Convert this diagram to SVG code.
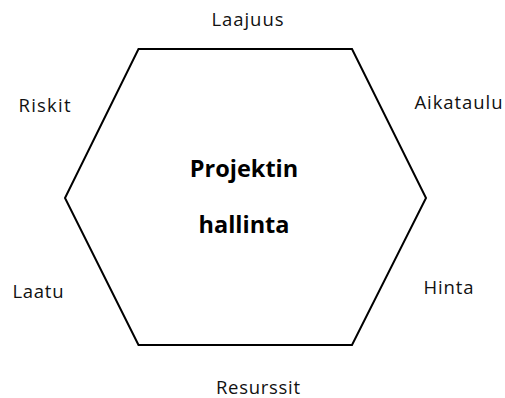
<svg xmlns="http://www.w3.org/2000/svg" width="505" height="398" viewBox="0 0 505 398">
<style>
.lbl{font-family:"Open Sans","Noto Sans","Liberation Sans",sans-serif;font-size:18.5px;fill:#111;text-anchor:middle}
.ctr{font-family:"Open Sans","Noto Sans","Liberation Sans",sans-serif;font-size:23.5px;font-weight:bold;fill:#000;text-anchor:middle}
.hex{fill:#fff;stroke:#000;stroke-width:2;stroke-linejoin:miter}
</style>
<rect width="505" height="398" fill="#fff"/>
<g id="hexagon">
<polygon class="hex" points="138.5,49 352,49 426,198 352,345 138.5,345 65,198"/>
<text class="ctr" x="244" y="177">Projektin</text>
<text class="ctr" x="244" y="233">hallinta</text>
</g>
<g id="connectors"></g>
<g id="laajuus"><text class="lbl" x="247.5" y="25.5" textLength="72" lengthAdjust="spacing">Laajuus</text></g>
<g id="riskit"><text class="lbl" x="44.5" y="112" textLength="52" lengthAdjust="spacing">Riskit</text></g>
<g id="aikataulu"><text class="lbl" x="458.5" y="109" textLength="88" lengthAdjust="spacing">Aikataulu</text></g>
<g id="laatu"><text class="lbl" x="38" y="298" textLength="51" lengthAdjust="spacing">Laatu</text></g>
<g id="hinta"><text class="lbl" x="448.5" y="294" textLength="50" lengthAdjust="spacing">Hinta</text></g>
<g id="resurssit"><text class="lbl" x="258" y="394" textLength="84" lengthAdjust="spacing">Resurssit</text></g>
</svg>
